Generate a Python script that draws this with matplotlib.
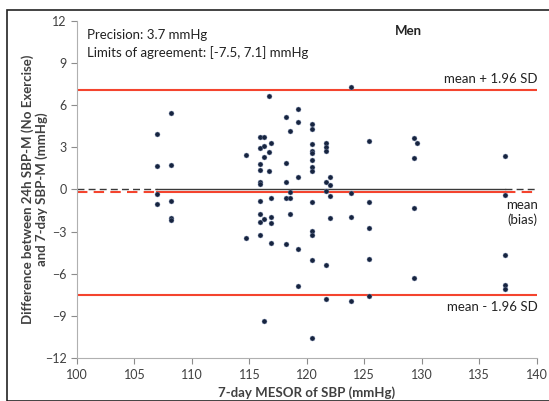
import numpy as np
import matplotlib
matplotlib.use('Agg')
import matplotlib.pyplot as plt
from matplotlib.patches import Rectangle

plt.rcParams['font.family'] = ['Lato', 'DejaVu Sans']

# 7-day MESOR of SBP (x) and difference 24h - 7-day (y)
mesor = [107.0] * 4 + [108.15] * 5 + [114.7] * 2 + [115.9] * 10 + [116.3] * 5 \
    + [116.7] * 3 + [116.9] * 5 + [118.15] * 5 + [118.5] * 4 + [119.27] * 5 \
    + [120.45] * 13 + [121.7] * 7 + [122.0] * 4 + [123.85] * 4 + [125.38] * 5 \
    + [129.28] * 4 + [129.6] + [137.22] * 5
diff = [3.95, 1.68, -0.33, -1.05,
        5.46, 1.74, -0.83, -2.03, -2.17,
        2.47, -3.42,
        3.73, 2.97, 1.81, 1.42, 0.50, 0.38, -0.84, -1.73, -2.32, -3.23,
        3.73, 3.10, 2.32, -2.07, -9.35,
        6.66, 2.65, 1.34,
        3.30, -0.63, -1.99, -2.35, -3.78,
        5.13, 1.90, 0.56, -0.58, -3.90,
        4.16, -0.18, -0.58, -1.74,
        5.74, 4.82, 0.92, -4.24, -6.85,
        4.68, 4.32, 3.25, 2.76, 2.58, 2.08, 1.61, 1.34, -0.87, -2.95, -3.27, -5.03, -10.58,
        3.30, 3.03, 2.75, 0.55, -0.12, -5.39, -7.78,
        0.87, 0.32, -0.49, -2.05,
        7.27, -0.23, -1.93, -7.96,
        3.45, -0.86, -2.76, -4.94, -7.55,
        3.65, 2.22, -1.32, -6.31,
        3.27,
        2.36, -0.39, -4.64, -6.76, -7.09]

bias = -0.2
upper_loa = 7.1
lower_loa = -7.5
precision = 3.7

red = '#f4442e'
grey = '#8c8c8c'
txt = '#404040'

fig = plt.figure(figsize=(5.49, 4.01), dpi=100)
ax = fig.add_axes([0.1403, 0.1065, 0.8373, 0.8419])

xmin, xmax = min(mesor), max(mesor)

# zero line and bias line: solid over the data range, dashed to the edges
ax.plot([xmin, xmax], [0, 0], color='#3a3a3a', lw=1.0, zorder=2)
ax.plot([100, xmin], [0, 0], color='#3a3a3a', lw=1.0, ls=(0, (5, 3)), zorder=2)
ax.plot([xmax, 140], [0, 0], color='#3a3a3a', lw=1.0, ls=(0, (5, 3)), zorder=2)
ax.plot([xmin, xmax], [bias, bias], color=red, lw=1.5, zorder=2)
ax.plot([100, xmin], [bias, bias], color=red, lw=1.5, ls=(0, (5, 3)), zorder=2)
ax.plot([xmax, 140], [bias, bias], color=red, lw=1.5, ls=(0, (5, 3)), zorder=2)

# limits of agreement
ax.axhline(upper_loa, color=red, lw=1.5, zorder=2)
ax.axhline(lower_loa, color=red, lw=1.5, zorder=2)

ax.scatter(mesor, diff, s=13, color='#17243f', edgecolor='#7f8fb0', linewidth=0.3, zorder=3)

ax.set_xlim(100, 140)
ax.set_ylim(-12, 12)
ax.set_xticks(np.arange(100, 141, 5))
ax.set_yticks(np.arange(-12, 13, 3))
ax.tick_params(colors=grey, labelcolor=txt, labelsize=9, length=4, width=0.8)
for s in ['top', 'right']:
    ax.spines[s].set_visible(False)
for s in ['left', 'bottom']:
    ax.spines[s].set_color('#b0b0b0')

ax.set_xlabel('7-day MESOR of SBP (mmHg)', fontsize=9.5, fontweight='bold', color=txt, labelpad=4)
ax.set_ylabel('Difference between 24h SBP-M (No Exercise)\nand 7-day SBP-M (mmHg)',
              fontsize=9.5, fontweight='bold', color=txt, linespacing=1.1)
ax.yaxis.set_label_coords(-0.064, 0.5)

ax.text(100.9, 10.95, 'Precision: %.1f mmHg' % precision, fontsize=9.5, color='#222222', va='center')
ax.text(100.9, 9.75, 'Limits of agreement: [%.1f, %.1f] mmHg' % (lower_loa, upper_loa),
        fontsize=9.5, color='#222222', va='center')
ax.text(128.8, 11.3, 'Men', fontsize=9.5, fontweight='bold', color='#222222', ha='center', va='center')

ax.text(140.1, upper_loa + 0.35, 'mean + 1.96 SD', fontsize=9.5, color='#222222', ha='right', va='bottom')
ax.text(140.1, bias - 0.45, 'mean\n(bias)', fontsize=9.5, color='#222222', ha='right', va='top',
        linespacing=1.25)
ax.text(140.1, lower_loa - 0.45, 'mean - 1.96 SD', fontsize=9.5, color='#222222', ha='right', va='top')

# outer frame around the chart
fig.patches.append(Rectangle((7 / 549, 0.0), 1.2, 1 - 10 / 401, transform=fig.transFigure,
                             fill=False, edgecolor='#222222', lw=1.2))

fig.savefig('out.png', dpi=100)
